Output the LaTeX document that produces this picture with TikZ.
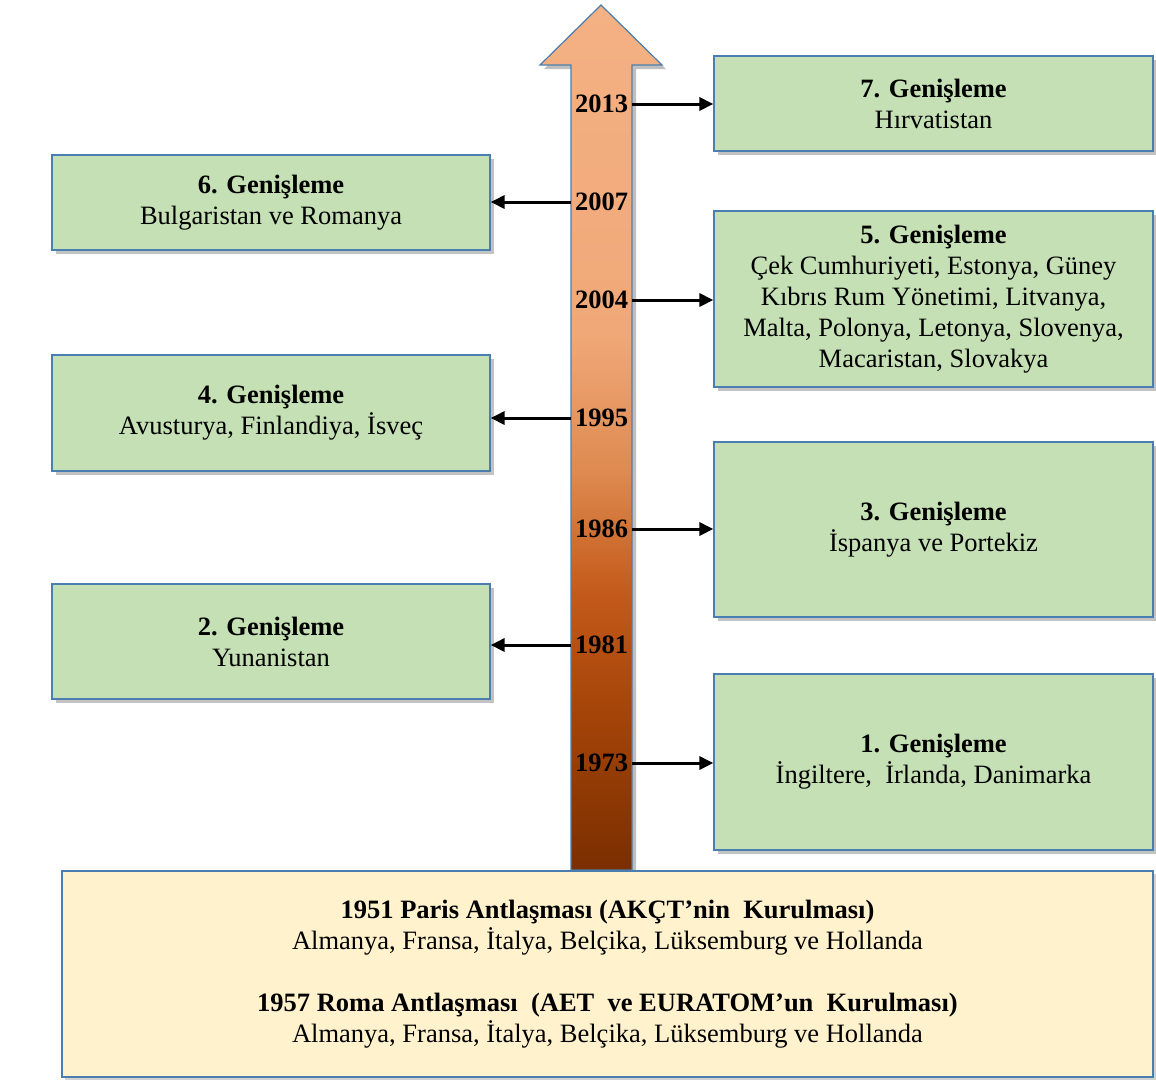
\documentclass[tikz,border=0pt]{standalone}
\usepackage{fontspec}
\setmainfont{Liberation Serif}
\usetikzlibrary{arrows.meta,shadows}
\definecolor{boxgreen}{HTML}{C5E0B4}
\definecolor{boxcream}{HTML}{FFF2CC}
\definecolor{boxedge}{HTML}{4A7EB0}
\definecolor{sA}{HTML}{7A2E00}
\definecolor{sB}{HTML}{A8460A}
\definecolor{sC}{HTML}{C35A1A}
\definecolor{sD}{HTML}{DE8A50}
\definecolor{sE}{HTML}{F0A878}
\definecolor{sF}{HTML}{F4B183}
\pgfdeclareverticalshading{timeshade}{100bp}{%
  color(0bp)=(sA);
  color(25bp)=(sA);
  color(34.8bp)=(sB);
  color(41bp)=(sC);
  color(48bp)=(sD);
  color(56bp)=(sE);
  color(75bp)=(sF);
  color(100bp)=(sF)}
\tikzset{
  enbox/.style={draw=boxedge, line width=1.2pt, fill=boxgreen, align=center,
    inner sep=0pt, font=\fontsize{26.5}{31}\selectfont,
    drop shadow={shadow xshift=4pt, shadow yshift=-4pt, opacity=0.4, fill=black!60}},
  basebox/.style={draw=boxedge, line width=1.5pt, fill=boxcream, align=center,
    inner sep=0pt, font=\fontsize{26.5}{31}\selectfont,
    drop shadow={shadow xshift=3pt, shadow yshift=-3pt, opacity=0.3, fill=black!60}},
  yearlabel/.style={font=\fontsize{26.5}{31}\selectfont\bfseries, inner sep=0pt},
  conn/.style={line width=3pt, -{Triangle[length=14pt,width=13pt]}}
}
\begin{document}
\begin{tikzpicture}[x=1pt,y=-1pt]
\useasboundingbox (0,0) rectangle (1156,1079);
% arrow shadow
\fill[black, opacity=0.25] (575,874) -- (575,69) -- (544,69) -- (605,9) -- (666,69) -- (636,69) -- (636,874) -- cycle;
% arrow
\shade[shading=timeshade, draw=boxedge, line width=1.2pt]
  (571,870) -- (571,65) -- (540,65) -- (601,5) -- (662,65) -- (632,65) -- (632,870) -- cycle;

% boxes
\node[enbox, minimum width=439pt, minimum height=95pt] (b7) at (933.5,103.5)
  {\textbf{7. Genişleme}\\Hırvatistan};
\node[enbox, minimum width=439pt, minimum height=176pt] (b5) at (933.5,299)
  {\textbf{5. Genişleme}\\Çek Cumhuriyeti, Estonya, Güney\\Kıbrıs Rum Yönetimi, Litvanya,\\Malta, Polonya, Letonya, Slovenya,\\Macaristan, Slovakya};
\node[enbox, minimum width=439pt, minimum height=175pt] (b3) at (933.5,529.5)
  {\textbf{3. Genişleme}\\İspanya ve Portekiz};
\node[enbox, minimum width=439pt, minimum height=176pt] (b1) at (933.5,762)
  {\textbf{1. Genişleme}\\İngiltere, \ İrlanda, Danimarka};
\node[enbox, minimum width=438pt, minimum height=95pt] (b6) at (271,202.5)
  {\textbf{6. Genişleme}\\Bulgaristan ve Romanya};
\node[enbox, minimum width=438pt, minimum height=116pt] (b4) at (271,413)
  {\textbf{4. Genişleme}\\Avusturya, Finlandiya, İsveç};
\node[enbox, minimum width=438pt, minimum height=115pt] (b2) at (271,641.5)
  {\textbf{2. Genişleme}\\Yunanistan};
\node[basebox, minimum width=1091pt, minimum height=206pt] (b0) at (607.5,974)
  {\textbf{1951 Paris Antlaşması (AKÇT’nin \ Kurulması)}\\Almanya, Fransa, İtalya, Belçika, Lüksemburg ve Hollanda\\[31pt]
   \textbf{1957 Roma Antlaşması \ (AET \ ve EURATOM’un \ Kurulması)}\\Almanya, Fransa, İtalya, Belçika, Lüksemburg ve Hollanda};

% years
\node[yearlabel] (y2013) at (601.5,104) {2013};
\node[yearlabel] (y2007) at (601.5,202) {2007};
\node[yearlabel] (y2004) at (601.5,300) {2004};
\node[yearlabel] (y1995) at (601.5,418) {1995};
\node[yearlabel] (y1986) at (601.5,529) {1986};
\node[yearlabel] (y1981) at (601.5,645) {1981};
\node[yearlabel] (y1973) at (601.5,763) {1973};

% connector start points on the arrow edges
\coordinate (c2013) at (632,104);
\coordinate (c2007) at (571,202);
\coordinate (c2004) at (632,300);
\coordinate (c1995) at (571,418);
\coordinate (c1986) at (632,529);
\coordinate (c1981) at (571,645);
\coordinate (c1973) at (632,763);

\draw[conn] (c2013) -- (c2013 -| b7.west);
\draw[conn] (c2004) -- (c2004 -| b5.west);
\draw[conn] (c1986) -- (c1986 -| b3.west);
\draw[conn] (c1973) -- (c1973 -| b1.west);
\draw[conn] (c2007) -- (c2007 -| b6.east);
\draw[conn] (c1995) -- (c1995 -| b4.east);
\draw[conn] (c1981) -- (c1981 -| b2.east);
\end{tikzpicture}
\end{document}
